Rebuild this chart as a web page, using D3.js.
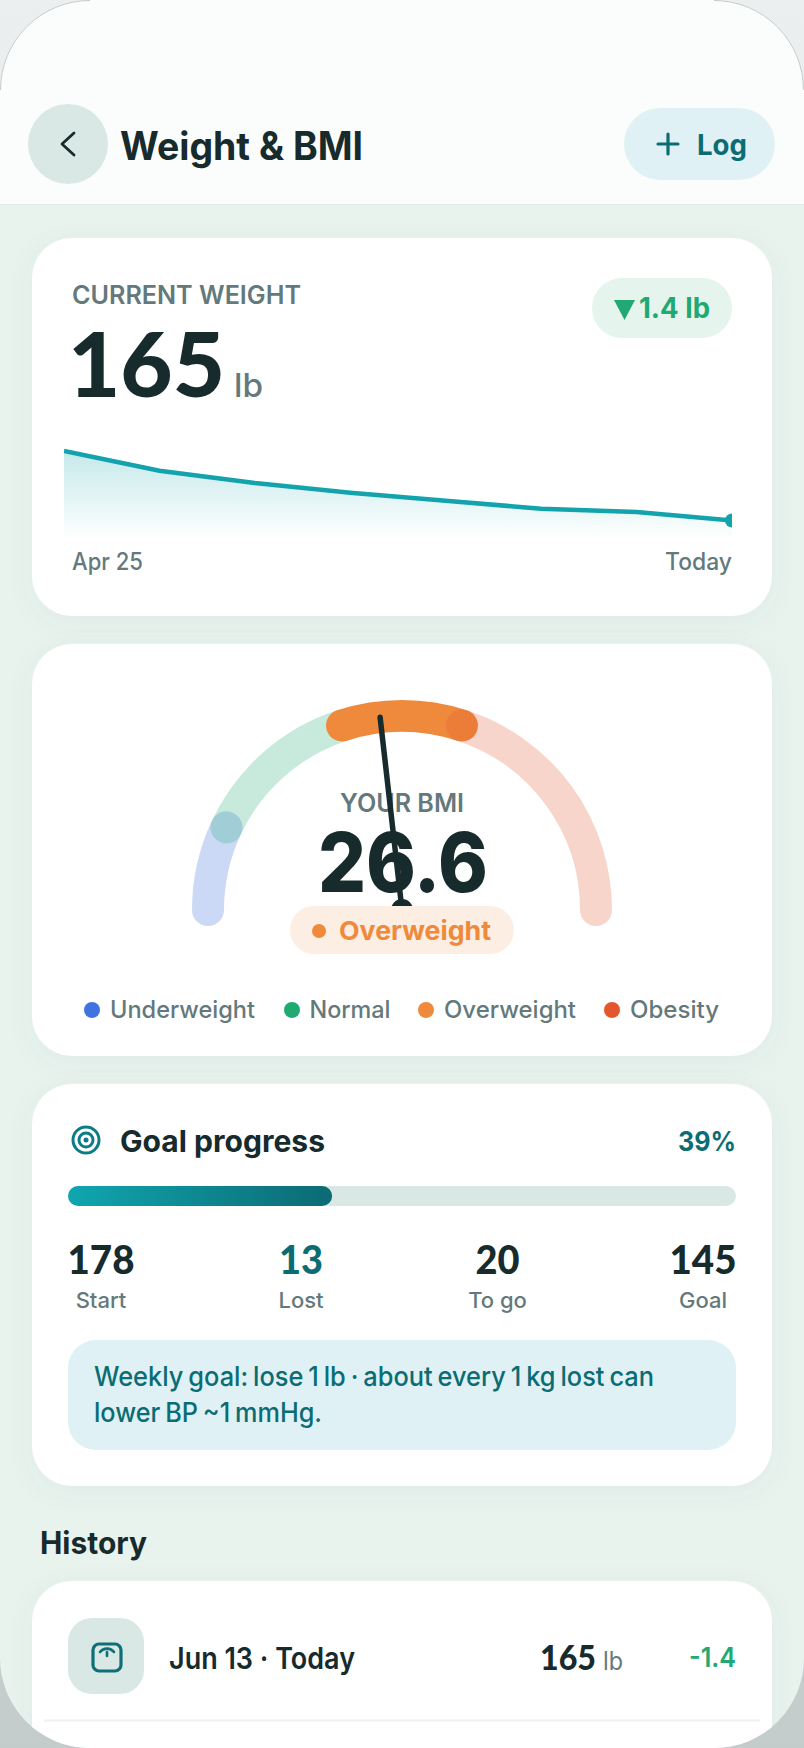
<!DOCTYPE html>
<html><head><meta charset="utf-8">
<script src="https://cdn.jsdelivr.net/npm/d3@7/dist/d3.min.js"></script>
<style>html,body{margin:0;padding:0;background:#e9eded}svg{display:block}text{font-family:Inter,"Noto Sans",sans-serif}.num{font-family:Lato,Inter,sans-serif}</style>
</head><body><div id="chart"></div>
<script>
const trendLabels = ["Apr 25","Today"];
const trendWeights = [178,174.3,172,170.2,168.7,167.2,166.6,165];
const bmiBandNames = ["Underweight","Normal","Overweight","Obesity"];
const bmiBandEdges = [15,18.5,25,30,40];
const bmiBandColors = ["#3f74e0","#1faa72","#ef8a3c","#e4572e"];
const bmiBandOpacity = [0.27,0.25,1,0.25];
const bmiValue = 26.6;
const goalStatLabels = ["Start","Lost","To go","Goal"];
const goalStatValues = [178,13,20,145];
const currentWeight = 165;
const historyDelta = "-1.4";

const W=804,H=1748;
const svg=d3.select("#chart").append("svg").attr("width",W).attr("height",H).attr("viewBox",[0,0,W,H]);
const defs=svg.append("defs");
const ink="#172a2c",muted="#64797b",teal="#0c6c74",green="#20a972",orange="#ef8a3c";

const sh=defs.append("filter").attr("id","sh").attr("x","-10%").attr("y","-10%").attr("width","120%").attr("height","125%");
sh.append("feDropShadow").attr("dx",0).attr("dy",6).attr("stdDeviation",12).attr("flood-color","#3b6b60").attr("flood-opacity",0.06);
const ag=defs.append("linearGradient").attr("id","ag").attr("x1",0).attr("x2",0).attr("y1",0).attr("y2",1);
ag.append("stop").attr("offset",0).attr("stop-color","#12a3ad").attr("stop-opacity",0.24);
ag.append("stop").attr("offset",1).attr("stop-color","#12a3ad").attr("stop-opacity",0);
const bg=defs.append("linearGradient").attr("id","bg");
bg.append("stop").attr("offset",0).attr("stop-color","#10a6af");
bg.append("stop").attr("offset",1).attr("stop-color","#0c6a74");
const og=defs.append("linearGradient").attr("id","og").attr("x1",0).attr("x2",0).attr("y1",0).attr("y2",1);
og.append("stop").attr("offset",0).attr("stop-color","#eceff0");
og.append("stop").attr("offset",0.5).attr("stop-color","#dfe4e4");
og.append("stop").attr("offset",1).attr("stop-color","#c3cbcb");
defs.append("clipPath").attr("id","phone").append("rect").attr("width",W).attr("height",H).attr("rx",90).attr("ry",90);
defs.append("clipPath").attr("id","plot").append("rect").attr("x",64).attr("y",430).attr("width",668).attr("height",120);

// frame
svg.append("rect").attr("width",W).attr("height",H).attr("fill","url(#og)");
const ph=svg.append("g").attr("clip-path","url(#phone)");
ph.append("rect").attr("width",W).attr("height",H).attr("fill","#e9f3ee");
ph.append("rect").attr("width",W).attr("height",204).attr("fill","#fbfdfc");
ph.append("line").attr("x1",0).attr("x2",W).attr("y1",204.5).attr("y2",204.5).attr("stroke","#e4ecea");

function card(y,h){ph.append("rect").attr("x",32).attr("y",y).attr("width",740).attr("height",h).attr("rx",40).attr("fill","#fff").attr("filter","url(#sh)");}
function T(x,y,s,size,weight,fill,anchor,len,cls){
  const t=ph.append("text").attr("x",x).attr("y",y).text(s).attr("font-size",size).attr("font-weight",weight).attr("fill",fill).attr("text-anchor",anchor||"start");
  if(len) t.attr("textLength",len).attr("lengthAdjust","spacingAndGlyphs");
  if(cls) t.attr("class",cls);
  return t;
}
card(238,378);card(644,412);card(1084,402);card(1581,260);

// header
ph.append("circle").attr("cx",68).attr("cy",144).attr("r",40).attr("fill","#d9e8e4");
ph.append("path").attr("d","M74 133 L62 144 L74 155").attr("fill","none").attr("stroke",ink).attr("stroke-width",2.8).attr("stroke-linecap","round").attr("stroke-linejoin","round");
T(120,160,"Weight & BMI",39,700,ink,"start",243);
ph.append("rect").attr("x",624).attr("y",108).attr("width",151).attr("height",72).attr("rx",36).attr("fill","#dff1f5");
ph.append("path").attr("d","M668 134 V154 M658 144 H678").attr("stroke",teal).attr("stroke-width",3.2).attr("stroke-linecap","round");
T(697,155,"Log",29,700,teal,"start",50);

// weight card
T(72,304,"CURRENT WEIGHT",25,600,muted,"start",229);
T(68,397,String(currentWeight),90,900,ink,"start",157,"num");
T(234,397,"lb",33,500,muted,"start",29);
ph.append("rect").attr("x",592).attr("y",278).attr("width",140).attr("height",60).attr("rx",30).attr("fill","#e5f5ee");
ph.append("path").attr("d","M614 300 H635 L624.5 320 Z").attr("fill",green);
T(639,318,"1.4 lb",28,700,green,"start",71);

const x=d3.scaleLinear().domain([0,trendWeights.length-1]).range([64,732]);
const y=d3.scaleLinear().domain([165,178]).range([520.5,451]);
const plot=ph.append("g").attr("clip-path","url(#plot)");
plot.append("path").datum(trendWeights).attr("fill","url(#ag)").attr("d",d3.area().x((d,i)=>x(i)).y0(y(161.3)).y1(d=>y(d)));
plot.append("path").datum(trendWeights).attr("fill","none").attr("stroke","#12a3ad").attr("stroke-width",4.5).attr("d",d3.line().x((d,i)=>x(i)).y(d=>y(d)));
plot.append("circle").attr("cx",x(trendWeights.length-1)).attr("cy",y(trendWeights[trendWeights.length-1])).attr("r",7).attr("fill","#12a3ad");
trendLabels.forEach((s,i)=>T(i?732:72,570,s,24,500,muted,i?"end":"start",i?67:71));

// gauge
const cx=402,cy=910,R=194;
const ang=d3.scaleLinear().domain([bmiBandEdges[0],bmiBandEdges[4]]).range([Math.PI,2*Math.PI]);
bmiBandNames.forEach((n,i)=>{
  const p=d3.path();p.arc(cx,cy,R,ang(bmiBandEdges[i]),ang(bmiBandEdges[i+1]));
  ph.append("path").attr("d",p.toString()).attr("fill","none").attr("stroke",bmiBandColors[i]).attr("stroke-opacity",bmiBandOpacity[i]).attr("stroke-width",32).attr("stroke-linecap","round");
});
T(cx,812,"YOUR BMI",25,600,muted,"middle",124);
T(cx+1,892,String(bmiValue),82,800,ink,"middle",170);
const a=ang(bmiValue);
ph.append("line").attr("x1",cx).attr("y1",cy).attr("x2",cx+R*Math.cos(a)).attr("y2",cy+R*Math.sin(a)).attr("stroke",ink).attr("stroke-width",5.5).attr("stroke-linecap","round");
ph.append("circle").attr("cx",cx).attr("cy",cy).attr("r",11).attr("fill",ink);
ph.append("rect").attr("x",290).attr("y",906).attr("width",224).attr("height",48).attr("rx",24).attr("fill","#fdeee3");
ph.append("circle").attr("cx",319).attr("cy",931).attr("r",7).attr("fill",orange);
T(339,940,bmiBandNames[2],26,700,orange,"start",152);
const legendDots=[92,292,426,612],legendText=[110,309.5,444,630],legendLen=[145,81,132,89];
bmiBandNames.forEach((n,i)=>{
  ph.append("circle").attr("cx",legendDots[i]).attr("cy",1010).attr("r",8).attr("fill",bmiBandColors[i]);
  T(legendText[i],1018,n,24,500,muted,"start",legendLen[i]);
});

// goal
const tg=ph.append("g").attr("fill","none").attr("stroke","#0e7c86").attr("stroke-width",3);
tg.append("circle").attr("cx",86).attr("cy",1140).attr("r",13);
tg.append("circle").attr("cx",86).attr("cy",1140).attr("r",7);
ph.append("circle").attr("cx",86).attr("cy",1140).attr("r",2.5).attr("fill","#0e7c86");
T(120,1152,"Goal progress",30,700,ink,"start",205);
T(736,1151,"39%",27,700,teal,"end",58);
const gx=d3.scaleLinear().domain([0,goalStatValues[0]-goalStatValues[3]]).range([68,736]);
ph.append("rect").attr("x",68).attr("y",1186).attr("width",668).attr("height",20).attr("rx",10).attr("fill","#d9e8e4");
ph.append("rect").attr("x",68).attr("y",1186).attr("width",gx(goalStatValues[1])-68+1).attr("height",20).attr("rx",10).attr("fill","url(#bg)");
const statX=[101,301,497.5,703],statLen=[67,44,44,67];
goalStatValues.forEach((v,i)=>{
  T(statX[i],1274,String(v),39,900,i==1?teal:ink,"middle",statLen[i],"num");
  T(statX[i],1308,goalStatLabels[i],22,500,muted,"middle");
});
ph.append("rect").attr("x",68).attr("y",1340).attr("width",668).attr("height",110).attr("rx",28).attr("fill","#dff1f5");
T(94,1386,"Weekly goal: lose 1 lb · about every 1 kg lost can",27,500,teal,"start",560).attr("word-spacing",-2);
T(94,1422,"lower BP ~1 mmHg.",27,500,teal,"start",228).attr("word-spacing",-2);

// history
T(40,1554,"History",31,700,ink,"start",107);
ph.append("rect").attr("x",68).attr("y",1618).attr("width",76).attr("height",76).attr("rx",24).attr("fill","#d9e8e4");
ph.append("rect").attr("x",93).attr("y",1644).attr("width",28).attr("height",27).attr("rx",6).attr("fill","none").attr("stroke","#0e6f78").attr("stroke-width",3.2);
ph.append("path").attr("d","M100 1652 A9 9 0 0 1 114 1652 M107 1652 V1656").attr("fill","none").attr("stroke","#0e6f78").attr("stroke-width",2.6).attr("stroke-linecap","round");
T(169,1669,"Jun 13 · Today",30,600,ink,"start",186);
T(540,1670,String(currentWeight),34,900,ink,"start",56,"num");
T(603,1670,"lb",25,400,muted,"start",20);
T(736,1667,historyDelta,27,600,green,"end",47);
ph.append("line").attr("x1",44).attr("x2",760).attr("y1",1720.5).attr("y2",1720.5).attr("stroke","#eef2f1").attr("stroke-width",2);
// thin edge of the device, visible only around the top corners
svg.append("path").attr("d",`M0.5 90 A89.5 89.5 0 0 1 90 0.5 M${W-90} 0.5 A89.5 89.5 0 0 1 ${W-0.5} 90`).attr("fill","none").attr("stroke","#c3c9c9").attr("stroke-width",1);
</script></body></html>
